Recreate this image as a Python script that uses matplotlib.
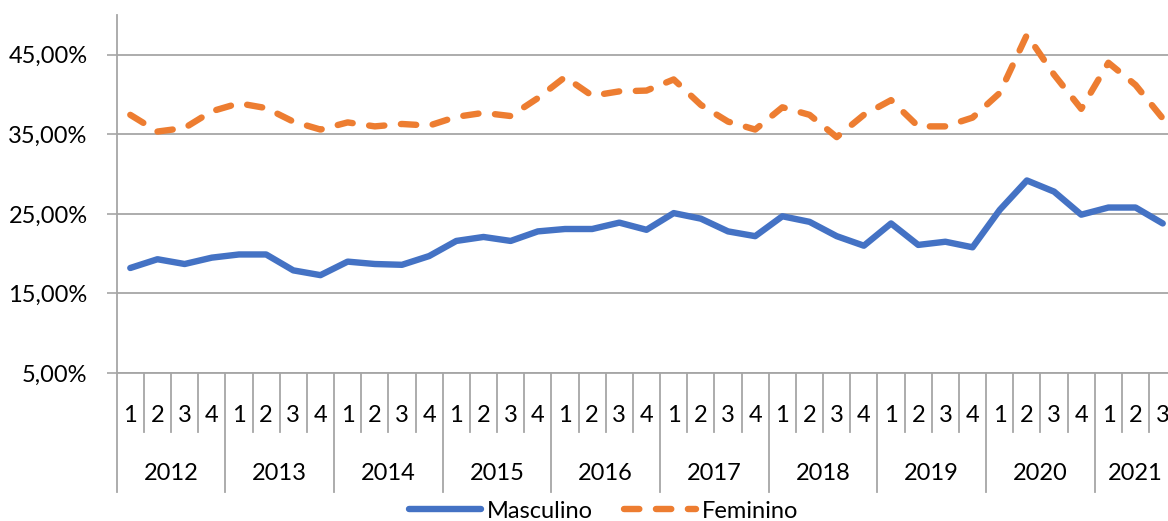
import numpy as np
import matplotlib
matplotlib.use("Agg")
import matplotlib.pyplot as plt
import matplotlib.transforms as mtransforms

# data (share of total, per quarter 2012Q1 .. 2021Q3)
years = ["2012", "2013", "2014", "2015", "2016", "2017", "2018", "2019", "2020", "2021"]
quarters_per_year = [4, 4, 4, 4, 4, 4, 4, 4, 4, 3]
masculino = [18.2, 19.3, 18.7, 19.5, 19.9, 19.9, 17.9, 17.3, 19.0, 18.7, 18.6, 19.7,
             21.6, 22.1, 21.6, 22.8, 23.1, 23.1, 23.9, 23.0, 25.1, 24.4, 22.8, 22.2,
             24.7, 24.0, 22.2, 21.0, 23.8, 21.1, 21.5, 20.8, 25.5, 29.2, 27.8, 24.9,
             25.8, 25.8, 23.8]
feminino = [37.45, 35.35, 35.8, 37.9, 38.9, 38.3, 36.6, 35.6, 36.5, 36.0, 36.3, 36.1,
            37.2, 37.7, 37.3, 39.55, 42.2, 39.85, 40.4, 40.5, 41.9, 38.7, 36.6, 35.6,
            38.4, 37.45, 34.65, 37.45, 39.3, 36.0, 36.0, 37.1, 40.2, 47.5, 42.5, 38.2,
            44.0, 41.2, 37.0]
yticks = [5, 15, 25, 35, 45]

quarter_labels = []
for n in quarters_per_year:
    quarter_labels += [str(q + 1) for q in range(n)]
n = len(quarter_labels)
x = np.arange(n) + 0.5

plt.rcParams["font.family"] = ["Lato", "DejaVu Sans"]
grid_col = "#a6a6a6"
fs = 17

fig = plt.figure(figsize=(11.68, 5.21), dpi=100)
ax = fig.add_axes([116.7 / 1168, 1 - 373 / 521, (39 * 27.17) / 1168, 358 / 521])

ax.plot(x, np.array(masculino) / 100, color="#4472c4", lw=4.6,
        solid_capstyle="round", solid_joinstyle="round", label="Masculino")
ax.plot(x, np.array(feminino) / 100, color="#ed7d31", lw=4.6,
        dashes=(2.4, 2.6), dash_capstyle="round", dash_joinstyle="round",
        label="Feminino")

ax.set_xlim(0, n)
ax.set_ylim(0.05, 0.50)
ax.set_yticks([v / 100 for v in yticks])
ax.set_yticklabels([f"{v:.2f}%".replace(".", ",") for v in yticks], fontsize=fs)
ax.yaxis.grid(True, color=grid_col, lw=1.3)
ax.set_axisbelow(True)
ax.set_xticks([])
ax.tick_params(axis="y", length=7, width=1.2, color=grid_col, pad=14, labelcolor="black")
for s in ["top", "right"]:
    ax.spines[s].set_visible(False)
ax.spines["bottom"].set_color(grid_col)
ax.spines["bottom"].set_linewidth(1.3)
ax.spines["left"].set_color(grid_col)
ax.spines["left"].set_linewidth(1.3)

# two-level category axis
trans = mtransforms.blended_transform_factory(ax.transData, ax.transAxes)
q_bot = -(432 - 373) / 358
y_bot = -(492 - 373) / 358
for i, lab in enumerate(quarter_labels):
    ax.text(i + 0.5, -(415 - 373) / 358, lab, transform=trans, ha="center",
            va="center", fontsize=fs, color="black")
pos = 0
for yr, k in zip(years, quarters_per_year):
    ax.plot([pos, pos], [y_bot, 0], transform=trans, color=grid_col, lw=1.3,
            clip_on=False)
    for j in range(1, k):
        ax.plot([pos + j, pos + j], [q_bot, 0], transform=trans, color=grid_col,
                lw=1.3, clip_on=False)
    ax.text(pos + k / 2, -(473 - 373) / 358, yr, transform=trans, ha="center",
            va="center", fontsize=fs, color="black")
    pos += k
ax.plot([pos, pos], [y_bot, 0], transform=trans, color=grid_col, lw=1.3, clip_on=False)

fig.legend(loc="center", bbox_to_anchor=(0.517, 0.019), ncol=2, frameon=False,
           fontsize=fs, handlelength=3.05, handletextpad=0.25, columnspacing=1.3)

fig.savefig("out.png", dpi=100)
